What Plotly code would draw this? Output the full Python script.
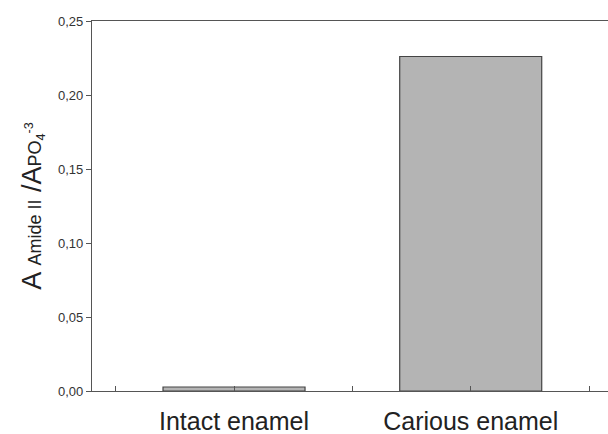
import plotly.graph_objects as go

categories = ["Intact enamel", "Carious enamel"]
values = [0.0027, 0.226]
y_ticks = [0.00, 0.05, 0.10, 0.15, 0.20, 0.25]
x_between_ticks = [-0.5, 0.5, 1.5]

xpos = list(range(len(categories)))

title_text = ("A <span style='font-size:18px'>Amide II</span> /A"
              "<span style='font-size:18px'>PO<sub>4</sub><sup>-3</sup></span>")

fig = go.Figure()
fig.add_trace(go.Bar(
    x=xpos, y=values, width=0.6,
    marker=dict(color="#b4b4b4", line=dict(color="#444444", width=1.2)),
))

fig.update_layout(
    width=608, height=434,
    margin=dict(l=92, r=0, t=21, b=43),
    paper_bgcolor="white", plot_bgcolor="white",
    separators=",.",
    showlegend=False,
    font=dict(family="Liberation Sans, Arial, sans-serif", color="#222222"),
    xaxis=dict(
        range=[-0.6, 1.58], tickvals=xpos, ticktext=categories,
        ticks="inside", ticklen=5, tickcolor="#555555", tickwidth=1,
        minor=dict(tickvals=x_between_ticks, ticks="inside", ticklen=5,
                   tickcolor="#555555", tickwidth=1, showgrid=False),
        showline=True, linecolor="#555555", linewidth=1.2, mirror=True,
        showgrid=False, zeroline=False,
        tickfont=dict(size=25, color="#222222"),
        ticklabelstandoff=8, automargin=False,
    ),
    yaxis=dict(
        range=[0, 0.25], tickvals=y_ticks, tickformat=".2f",
        ticks="outside", ticklen=5, tickcolor="#555555", tickwidth=1,
        showline=True, linecolor="#555555", linewidth=1.2, mirror=False,
        showgrid=False, zeroline=False, automargin=False,
        tickfont=dict(size=13, color="#333333"),
        title=dict(text=title_text, font=dict(size=27, color="#222222"), standoff=8),
    ),
)

fig.write_html("out.html")
